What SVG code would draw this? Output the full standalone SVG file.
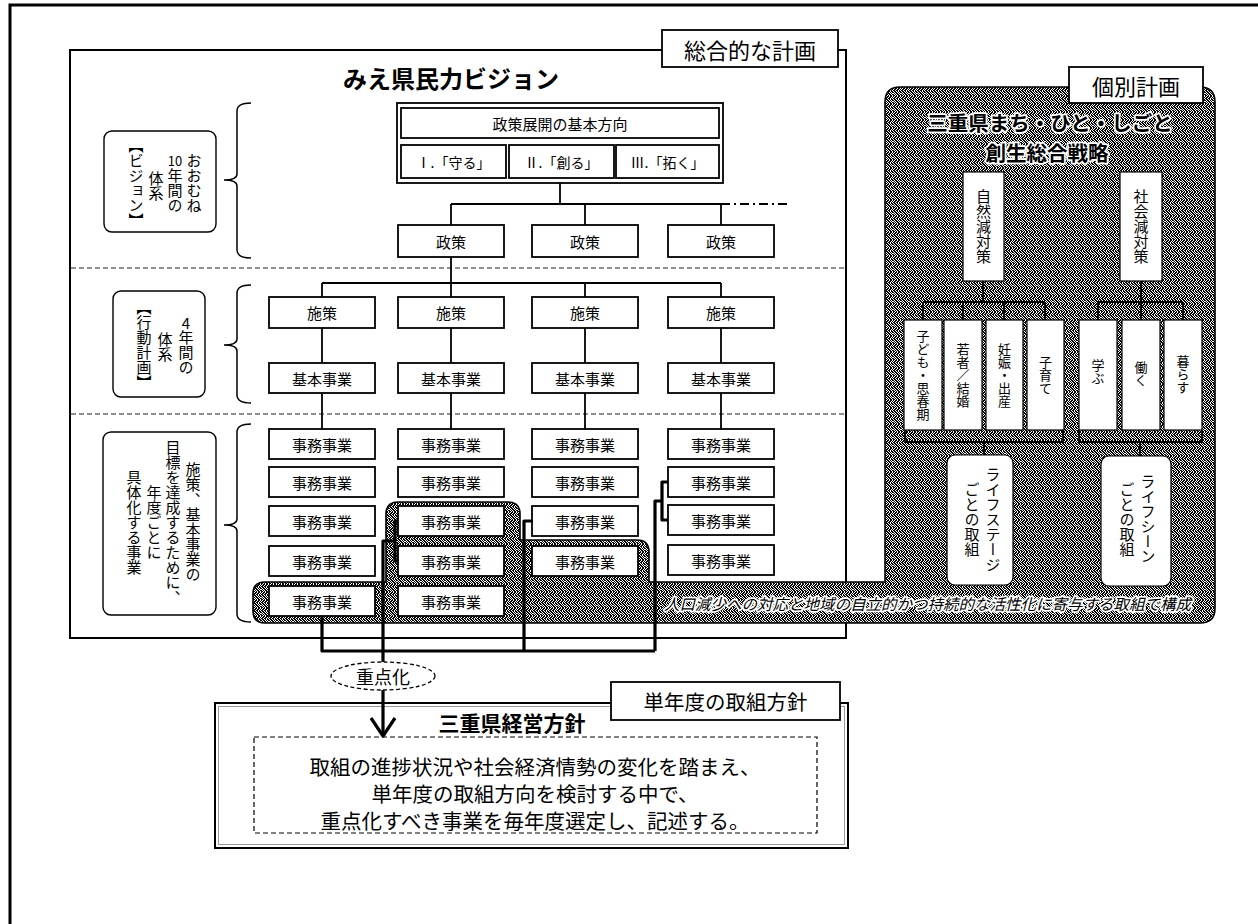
<svg xmlns="http://www.w3.org/2000/svg" width="1258" height="924" viewBox="0 0 1258 924">
<defs>
<pattern id="stip" width="8" height="8" patternUnits="userSpaceOnUse">
<rect width="8" height="8" fill="#fff"/>
<path shape-rendering="crispEdges" fill="#000" d="M0 0h1v1h-1z M2 0h2v1h-2z M5 0h1v1h-1z M7 0h1v1h-1z M1 1h2v1h-2z M4 1h1v1h-1z M6 1h2v1h-2z M0 2h2v1h-2z M3 2h1v1h-1z M5 2h2v1h-2z M1 3h1v1h-1z M3 3h2v1h-2z M6 3h2v1h-2z M0 4h1v1h-1z M2 4h1v1h-1z M4 4h2v1h-2z M7 4h1v1h-1z M0 5h2v1h-2z M3 5h1v1h-1z M6 5h1v1h-1z M1 6h2v1h-2z M4 6h2v1h-2z M7 6h1v1h-1z M0 7h1v1h-1z M2 7h2v1h-2z M5 7h2v1h-2z"/>
</pattern>
</defs>
<style>
text{font-family:"Noto Sans CJK JP","Noto Sans",sans-serif;fill:#000}
.c{text-anchor:middle;dominant-baseline:central}
.v{writing-mode:vertical-rl;text-anchor:middle}
.b{fill:#fff;stroke:#000;stroke-width:1.8}
.sb{fill:#fff;stroke:#000;stroke-width:1.2}
.lb{fill:#fff;stroke:#000;stroke-width:1.4}
.ln{stroke:#000;stroke-width:1.8;fill:none}
.br{stroke:#000;stroke-width:1.5;fill:none}
.thick{stroke:#000;stroke-width:3.2;fill:none;stroke-linejoin:round}
.div{stroke:#222;stroke-width:1.2;stroke-dasharray:5 3;fill:none}
.halo{stroke:#fff;stroke-width:3.5;paint-order:stroke;stroke-linejoin:round}
.f15{font-size:15px}
</style>

<rect x="10" y="5" width="1262" height="935" fill="#fff" stroke="#000" stroke-width="3"/>

<!-- main frame -->
<g id="sougou-frame">
<rect x="70" y="50" width="776" height="588" fill="#fff" stroke="#000" stroke-width="2"/>
<text class="c" x="451" y="77" font-size="24" font-weight="bold">みえ県民力ビジョン</text>
<line class="div" x1="71" y1="268" x2="845" y2="268"/>
<line class="div" x1="71" y1="414" x2="845" y2="414"/>
</g>

<!-- gray stippled region -->
<g id="kobetsu-region">
<path fill="url(#stip)" stroke="#000" stroke-width="1.6" d="M265,582 H386 V514 Q386,502 398,502 H508 Q520,502 520,514 V540 H637 Q649,540 649,552 V582 H885 V102 Q885,87 900,87 H1200 Q1215,87 1215,102 V608 Q1215,623 1200,623 H265 Q253,623 253,611 V594 Q253,582 265,582 Z"/>
<text class="c halo" x="1050" y="122" font-size="20.5" font-weight="bold">三重県まち・ひと・しごと</text>
<text class="c halo" x="1047" y="152" font-size="20.5" font-weight="bold">創生総合戦略</text>
<text class="halo" x="664" y="603" font-size="15.5" font-style="italic" dominant-baseline="central">人口減少への対応と地域の自立的かつ持続的な活性化に寄与する取組で構成</text>
</g>

<!-- tags -->
<g id="tag-sougou">
<rect class="b" x="662" y="30" width="176" height="37"/>
<text class="c" x="750" y="48.5" font-size="22">総合的な計画</text>
</g>
<g id="tag-kobetsu">
<rect class="b" x="1069" y="67" width="134" height="36"/>
<text class="c" x="1136" y="85" font-size="22">個別計画</text>
</g>

<!-- brackets and level labels -->
<g id="level-vision">
<path class="br" d="M251,103 Q237,103 237,111 V174 Q237,180 224,180 Q237,180 237,186 V250 Q237,258 251,258"/>
<rect class="lb" x="104" y="131" width="112" height="101" rx="8"/>
<text class="v f15" x="194" y="183">おおむね</text>
<text class="c" x="175" y="160.5" font-size="13">10</text>
<text class="v f15" x="175" y="190.5">年間の</text>
<text class="v f15" x="156" y="186">体系</text>
<text class="v f15" x="136" y="183">【ビジョン】</text>
</g>
<g id="level-action">
<path class="br" d="M251,285 Q237,285 237,293 V339 Q237,345 224,345 Q237,345 237,351 V395 Q237,403 251,403"/>
<rect class="lb" x="113" y="291" width="92" height="106" rx="8"/>
<text class="c" x="186" y="322.5" font-size="15">4</text>
<text class="v f15" x="186" y="352.5">年間の</text>
<text class="v f15" x="165" y="347">体系</text>
<text class="v f15" x="144" y="345">【行動計画】</text>
</g>
<g id="level-jigyo">
<path class="br" d="M251,424 Q237,424 237,432 V519 Q237,525 224,525 Q237,525 237,531 V614 Q237,622 251,622"/>
<rect class="lb" x="103" y="432" width="113" height="183" rx="8"/>
<text class="v f15" x="193" y="522">施策、基本事業の</text>
<text class="v f15" x="173" y="522">目標を達成するために、</text>
<text class="v f15" x="154" y="522">年度ごとに</text>
<text class="v f15" x="134" y="522">具体化する事業</text>
</g>

<!-- thin connectors -->
<g id="connectors">
<path class="ln" d="M560,183 V204 M451,204 H721 M451,204 V225 M585,204 V225 M721,204 V225"/>
<path stroke="#000" stroke-width="1.8" fill="none" stroke-dasharray="9 4 2 4" d="M721,204 H787"/>
<path class="ln" d="M451,257 V297 M322,283 H721 M322,283 V297 M585,283 V297 M721,283 V297"/>
<path class="ln" d="M322,328 V363 M451,328 V363 M585,328 V363 M721,328 V363"/>
<path class="ln" d="M322,393 V429 M451,393 V429 M585,393 V429 M721,393 V429"/>
<path class="ln" d="M983,281 V302 M923,302 H1045 M923,302 V320 M963,302 V320 M1004,302 V320 M1045,302 V320"/>
<path class="ln" d="M1141,281 V302 M1098,302 H1183 M1098,302 V320 M1141,302 V320 M1183,302 V320"/>
<path class="ln" d="M905,430 V442 H1063 V430 M984,442 V455"/>
<path class="ln" d="M1079,430 V442 H1202 V430 M1140,442 V456"/>
</g>

<!-- top level -->
<g id="kihon-houkou">
<rect class="b" x="397" y="103" width="326" height="80"/>
<rect class="b" x="401" y="108" width="318" height="30"/>
<text class="c" x="560" y="123" font-size="15">政策展開の基本方向</text>
<rect class="b" x="401" y="145" width="105" height="33"/>
<text class="c" x="453.5" y="161.5" font-size="14">Ⅰ.「守る」</text>
<rect class="b" x="509" y="145" width="105" height="33"/>
<text class="c" x="561.5" y="161.5" font-size="14">Ⅱ.「創る」</text>
<rect class="b" x="616" y="145" width="103" height="33"/>
<text class="c" x="667.5" y="161.5" font-size="14">Ⅲ.「拓く」</text>
</g>

<g id="seisaku-1"><rect class="b" x="398" y="225" width="106" height="32"/><text class="c f15" x="451" y="241">政策</text></g>
<g id="seisaku-2"><rect class="b" x="532" y="225" width="106" height="32"/><text class="c f15" x="585" y="241">政策</text></g>
<g id="seisaku-3"><rect class="b" x="668" y="225" width="106" height="32"/><text class="c f15" x="721" y="241">政策</text></g>

<g id="shisaku-1"><rect class="b" x="269" y="297" width="106" height="31"/><text class="c f15" x="322" y="312.5">施策</text></g>
<g id="shisaku-2"><rect class="b" x="398" y="297" width="106" height="31"/><text class="c f15" x="451" y="312.5">施策</text></g>
<g id="shisaku-3"><rect class="b" x="532" y="297" width="106" height="31"/><text class="c f15" x="585" y="312.5">施策</text></g>
<g id="shisaku-4"><rect class="b" x="668" y="297" width="106" height="31"/><text class="c f15" x="721" y="312.5">施策</text></g>

<g id="kihonjigyo-1"><rect class="b" x="269" y="363" width="106" height="30"/><text class="c f15" x="322" y="378">基本事業</text></g>
<g id="kihonjigyo-2"><rect class="b" x="398" y="363" width="106" height="30"/><text class="c f15" x="451" y="378">基本事業</text></g>
<g id="kihonjigyo-3"><rect class="b" x="532" y="363" width="106" height="30"/><text class="c f15" x="585" y="378">基本事業</text></g>
<g id="kihonjigyo-4"><rect class="b" x="668" y="363" width="106" height="30"/><text class="c f15" x="721" y="378">基本事業</text></g>

<!-- 事務事業 column 1 -->
<g id="jimu-1-1"><rect class="b" x="269" y="429" width="106" height="30"/><text class="c f15" x="322" y="444">事務事業</text></g>
<g id="jimu-1-2"><rect class="b" x="269" y="467" width="106" height="30"/><text class="c f15" x="322" y="482">事務事業</text></g>
<g id="jimu-1-3"><rect class="b" x="269" y="506" width="106" height="30"/><text class="c f15" x="322" y="521">事務事業</text></g>
<g id="jimu-1-4"><rect class="b" x="269" y="546" width="106" height="30"/><text class="c f15" x="322" y="561">事務事業</text></g>
<g id="jimu-1-5"><rect class="b" x="269" y="586" width="106" height="30"/><text class="c f15" x="322" y="601">事務事業</text></g>
<!-- column 2 -->
<g id="jimu-2-1"><rect class="b" x="398" y="429" width="106" height="30"/><text class="c f15" x="451" y="444">事務事業</text></g>
<g id="jimu-2-2"><rect class="b" x="398" y="467" width="106" height="30"/><text class="c f15" x="451" y="482">事務事業</text></g>
<g id="jimu-2-3"><rect class="b" x="398" y="506" width="106" height="30"/><text class="c f15" x="451" y="521">事務事業</text></g>
<g id="jimu-2-4"><rect class="b" x="398" y="546" width="106" height="30"/><text class="c f15" x="451" y="561">事務事業</text></g>
<g id="jimu-2-5"><rect class="b" x="398" y="586" width="106" height="30"/><text class="c f15" x="451" y="601">事務事業</text></g>
<!-- column 3 -->
<g id="jimu-3-1"><rect class="b" x="532" y="429" width="106" height="30"/><text class="c f15" x="585" y="444">事務事業</text></g>
<g id="jimu-3-2"><rect class="b" x="532" y="467" width="106" height="30"/><text class="c f15" x="585" y="482">事務事業</text></g>
<g id="jimu-3-3"><rect class="b" x="532" y="506" width="106" height="30"/><text class="c f15" x="585" y="521">事務事業</text></g>
<g id="jimu-3-4"><rect class="b" x="532" y="546" width="106" height="30"/><text class="c f15" x="585" y="561">事務事業</text></g>
<!-- column 4 -->
<g id="jimu-4-1"><rect class="b" x="668" y="429" width="106" height="30"/><text class="c f15" x="721" y="444">事務事業</text></g>
<g id="jimu-4-2"><rect class="b" x="668" y="467" width="106" height="30"/><text class="c f15" x="721" y="482">事務事業</text></g>
<g id="jimu-4-3"><rect class="b" x="668" y="505" width="106" height="30"/><text class="c f15" x="721" y="520">事務事業</text></g>
<g id="jimu-4-4"><rect class="b" x="668" y="545" width="106" height="30"/><text class="c f15" x="721" y="560">事務事業</text></g>

<!-- right side nodes -->
<g id="shizen-gen"><rect class="sb" x="963" y="172" width="41" height="109"/><text class="v f15" x="983.5" y="226">自然減対策</text></g>
<g id="shakai-gen"><rect class="sb" x="1120" y="172" width="42" height="109"/><text class="v f15" x="1141" y="226">社会減対策</text></g>

<g id="kodomo"><rect class="sb" x="904" y="320" width="38" height="110"/><text class="v" x="923" y="375" font-size="13">子ども・思春期</text></g>
<g id="wakamono"><rect class="sb" x="944" y="320" width="38" height="110"/><text class="v" x="963" y="375" font-size="13">若者／結婚</text></g>
<g id="ninshin"><rect class="sb" x="986" y="320" width="37" height="110"/><text class="v" x="1004.5" y="375" font-size="13">妊娠・出産</text></g>
<g id="kosodate"><rect class="sb" x="1027" y="320" width="37" height="110"/><text class="v" x="1045.5" y="375" font-size="13">子育て</text></g>
<g id="manabu"><rect class="sb" x="1079" y="320" width="38" height="110"/><text class="v" x="1098" y="372" font-size="13">学ぶ</text></g>
<g id="hataraku"><rect class="sb" x="1122" y="320" width="38" height="110"/><text class="v" x="1141" y="374" font-size="13">働く</text></g>
<g id="kurasu"><rect class="sb" x="1164" y="320" width="38" height="110"/><text class="v" x="1183" y="374" font-size="13">暮らす</text></g>

<g id="lifestage"><rect class="sb" x="947" y="455" width="66" height="130" rx="8"/><text class="v f15" x="993" y="519">ライフステージ</text><text class="v f15" x="972" y="519">ごとの取組</text></g>
<g id="lifescene"><rect class="sb" x="1101" y="456" width="70" height="130" rx="8"/><text class="v f15" x="1148" y="519">ライフシーン</text><text class="v f15" x="1127" y="519">ごとの取組</text></g>

<!-- bottom box -->
<g id="keiei-houshin">
<rect x="215" y="703" width="633" height="145" fill="#fff" stroke="#000" stroke-width="2"/>
<rect x="218.5" y="706.5" width="626" height="138" fill="none" stroke="#999" stroke-width="1"/>
<rect x="254" y="737" width="563" height="96" fill="none" stroke="#000" stroke-width="1.2" stroke-dasharray="5 3"/>
<text class="c" x="512" y="722" font-size="21" font-weight="bold">三重県経営方針</text>
<text class="c" x="535" y="766" font-size="20.5">取組の進捗状況や社会経済情勢の変化を踏まえ、</text>
<text class="c" x="535" y="793" font-size="20.5">単年度の取組方向を検討する中で、</text>
<text class="c" x="535" y="820" font-size="20.5">重点化すべき事業を毎年度選定し、記述する。</text>
</g>
<g id="tag-tannendo">
<rect class="b" x="611" y="682" width="229" height="38"/>
<text class="c" x="725.5" y="701" font-size="20.5">単年度の取組方針</text>
</g>

<!-- thick 重点化 connectors -->
<g id="juten-connectors">
<path class="thick" d="M398,521 H395 V561 H398 M395,541 H383 V734"/>
<path class="thick" d="M533,521 H524 V651"/>
<path class="thick" d="M668,482 H662 V520 H668 M662,501 H655 V651"/>
<path class="thick" d="M322,616 V651 H655"/>
<path class="thick" d="M371,718 L383,736 L395,718"/>
</g>
<g id="juten">
<ellipse cx="383" cy="676" rx="52" ry="14" fill="#fff" stroke="#000" stroke-width="1.3" stroke-dasharray="4 2.5"/>
<text class="c" x="383" y="676" font-size="18">重点化</text>
</g>
</svg>
